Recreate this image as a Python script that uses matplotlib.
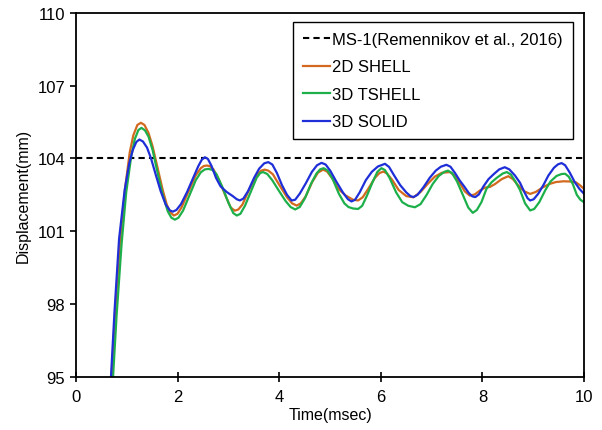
import matplotlib
matplotlib.use("Agg")
import matplotlib.pyplot as plt

plt.rcParams['font.family'] = ['Liberation Sans', 'DejaVu Sans']

ref_value = 104.0
ref_label = "MS-1(Remennikov et al., 2016)"

t_shell2d = [0.68, 0.76, 0.86, 0.96, 1.05, 1.12, 1.20, 1.27, 1.34, 1.42, 1.50, 1.60, 1.70, 1.78, 1.85, 1.92,
             1.99, 2.07, 2.20, 2.35, 2.45, 2.51, 2.57, 2.63, 2.70, 2.80, 2.95, 3.04, 3.12, 3.19, 3.27, 3.40,
             3.55, 3.64, 3.71, 3.78, 3.87, 4.00, 4.15, 4.25, 4.34, 4.42, 4.52, 4.65, 4.76, 4.86, 4.94, 5.04,
             5.16, 5.30, 5.45, 5.55, 5.64, 5.75, 5.88, 5.97, 6.05, 6.12, 6.22, 6.35, 6.50, 6.64, 6.78, 6.92,
             7.06, 7.20, 7.36, 7.45, 7.55, 7.65, 7.75, 7.85, 7.95, 8.05, 8.15, 8.25, 8.38, 8.51, 8.60, 8.70,
             8.82, 8.94, 9.05, 9.18, 9.32, 9.45, 9.60, 9.75, 9.84, 9.92, 10.0]
y_shell2d = [94.6, 97.6, 100.6, 102.8, 104.25, 104.95, 105.38, 105.47, 105.38, 105.05, 104.5, 103.6, 102.7, 102.1, 101.78, 101.65,
             101.72, 101.98, 102.6, 103.3, 103.6, 103.69, 103.71, 103.68, 103.55, 103.15, 102.4, 101.98, 101.85, 101.9, 102.1, 102.7,
             103.3, 103.5, 103.54, 103.5, 103.35, 102.9, 102.4, 102.15, 102.06, 102.15, 102.45, 103.05, 103.42, 103.54, 103.46, 103.18,
             102.75, 102.48, 102.3, 102.27, 102.4, 102.75, 103.2, 103.4, 103.46, 103.38, 103.12, 102.7, 102.45, 102.4, 102.62, 102.95,
             103.25, 103.41, 103.44, 103.3, 103.0, 102.65, 102.47, 102.52, 102.68, 102.8, 102.83, 102.95, 103.15, 103.27, 103.15, 102.9,
             102.65, 102.54, 102.62, 102.8, 102.95, 103.03, 103.06, 103.05, 103.02, 102.9, 102.75]

t_tshell3d = [0.71, 0.79, 0.89, 0.98, 1.08, 1.15, 1.22, 1.28, 1.35, 1.42, 1.50, 1.60, 1.70, 1.80, 1.87, 1.94,
              2.01, 2.10, 2.22, 2.35, 2.45, 2.53, 2.60, 2.68, 2.76, 2.87, 3.00, 3.09, 3.16, 3.23, 3.32, 3.44,
              3.55, 3.62, 3.68, 3.76, 3.86, 3.98, 4.12, 4.22, 4.31, 4.40, 4.50, 4.62, 4.73, 4.80, 4.87, 4.95,
              5.05, 5.17, 5.28, 5.36, 5.45, 5.55, 5.63, 5.72, 5.84, 5.93, 6.01, 6.08, 6.17, 6.30, 6.42, 6.54,
              6.67, 6.78, 6.90, 7.02, 7.14, 7.25, 7.32, 7.40, 7.50, 7.62, 7.72, 7.81, 7.89, 7.98, 8.08, 8.18,
              8.28, 8.40, 8.48, 8.56, 8.65, 8.74, 8.84, 8.94, 9.02, 9.12, 9.24, 9.34, 9.46, 9.56, 9.63, 9.70,
              9.78, 9.86, 9.93, 10.0]
y_tshell3d = [94.6, 97.5, 100.5, 102.6, 104.1, 104.8, 105.17, 105.26, 105.16, 104.9, 104.35, 103.4, 102.5, 101.82, 101.56, 101.48,
              101.56, 101.85, 102.45, 103.1, 103.43, 103.55, 103.57, 103.53, 103.35, 102.85, 102.15, 101.75, 101.65, 101.72, 102.05, 102.65,
              103.2, 103.4, 103.44, 103.36, 103.1, 102.7, 102.25, 102.0, 101.9, 102.0, 102.35, 102.95, 103.38, 103.55, 103.6, 103.5,
              103.15, 102.55, 102.15, 102.0, 101.94, 101.92, 102.05, 102.45, 103.05, 103.45, 103.6, 103.52, 103.2, 102.6, 102.2, 102.05,
              101.99, 102.12, 102.5, 102.95, 103.28, 103.45, 103.5, 103.4, 103.05, 102.47, 101.98, 101.76, 101.88, 102.2, 102.75, 103.02,
              103.2, 103.38, 103.44, 103.34, 103.05, 102.7, 102.15, 101.86, 101.92, 102.2, 102.7, 103.05, 103.28, 103.36, 103.37, 103.25,
              102.95, 102.5, 102.3, 102.2]

t_solid3d = [0.67, 0.75, 0.84, 0.95, 1.04, 1.11, 1.18, 1.24, 1.31, 1.39, 1.47, 1.56, 1.66, 1.76, 1.84, 1.90,
             1.97, 2.06, 2.18, 2.30, 2.40, 2.47, 2.53, 2.59, 2.66, 2.75, 2.84, 2.96, 3.08, 3.16, 3.22, 3.29,
             3.38, 3.50, 3.60, 3.70, 3.78, 3.86, 3.95, 4.05, 4.15, 4.24, 4.31, 4.40, 4.52, 4.64, 4.74, 4.83,
             4.91, 5.00, 5.12, 5.25, 5.35, 5.42, 5.49, 5.58, 5.70, 5.82, 5.94, 6.08, 6.16, 6.26, 6.38, 6.50,
             6.58, 6.64, 6.72, 6.84, 6.96, 7.08, 7.18, 7.29, 7.37, 7.46, 7.55, 7.64, 7.73, 7.80, 7.86, 7.93,
             8.02, 8.12, 8.22, 8.33, 8.44, 8.53, 8.64, 8.74, 8.83, 8.89, 8.94, 9.01, 9.10, 9.20, 9.30, 9.41,
             9.49, 9.56, 9.63, 9.72, 9.82, 9.91, 10.0]
y_solid3d = [94.6, 97.7, 100.69, 102.7, 103.8, 104.35, 104.68, 104.78, 104.7, 104.45, 104.0, 103.35, 102.65, 102.1, 101.86, 101.81,
             101.88, 102.12, 102.62, 103.2, 103.68, 103.95, 104.05, 103.98, 103.7, 103.2, 102.85, 102.62, 102.45, 102.32, 102.27, 102.35,
             102.65, 103.2, 103.58, 103.8, 103.85, 103.75, 103.4, 102.9, 102.5, 102.27, 102.3, 102.55, 102.98, 103.45, 103.72, 103.82,
             103.75, 103.5, 103.05, 102.6, 102.32, 102.23, 102.3, 102.6, 103.1, 103.45, 103.67, 103.78, 103.65, 103.3, 102.9, 102.6,
             102.45, 102.41, 102.5, 102.82, 103.2, 103.5, 103.66, 103.74, 103.66, 103.4, 103.1, 102.85, 102.58, 102.44, 102.41, 102.52,
             102.85, 103.15, 103.35, 103.55, 103.64, 103.55, 103.3, 103.0, 102.6, 102.36, 102.27, 102.32, 102.55, 102.9, 103.3, 103.62,
             103.76, 103.81, 103.72, 103.42, 103.02, 102.75, 102.55]

x_ticks = [0, 2, 4, 6, 8, 10]
y_ticks = [95, 98, 101, 104, 107, 110]

fig = plt.figure(figsize=(6.02, 4.31), dpi=100)
ax = fig.add_axes([0.127, 0.123, 0.843, 0.845])

ax.axhline(ref_value, color='black', lw=1.5, ls=(0, (3, 2)), label=ref_label)
ax.plot(t_shell2d, y_shell2d, color='#D2691E', lw=1.6, label='2D SHELL')
ax.plot(t_tshell3d, y_tshell3d, color='#1DB04A', lw=1.6, label='3D TSHELL')
ax.plot(t_solid3d, y_solid3d, color='#1F2FD8', lw=1.6, label='3D SOLID')

ax.set_xlim(0, 10)
ax.set_ylim(95, 110)
ax.set_xticks(x_ticks)
ax.set_yticks(y_ticks)
ax.tick_params(axis='x', direction='inout', length=7, width=1.2, labelsize=12, pad=5)
ax.tick_params(axis='y', direction='out', length=4, width=1.2, labelsize=12, pad=4)
for s in ax.spines.values():
    s.set_linewidth(1.3)
    s.set_color('black')

ax.set_xlabel('Time(msec)', fontsize=11.5, labelpad=2)
ax.set_ylabel('Displacement(mm)', fontsize=11.5, labelpad=5)

leg = ax.legend(loc='upper right', bbox_to_anchor=(0.978, 0.975), borderaxespad=0,
                fontsize=12, handlelength=1.6, handletextpad=0.15, labelspacing=0.75,
                borderpad=0.6, fancybox=False, framealpha=1, edgecolor='black')
leg.get_frame().set_linewidth(1.0)

fig.savefig('out.png', dpi=100)
